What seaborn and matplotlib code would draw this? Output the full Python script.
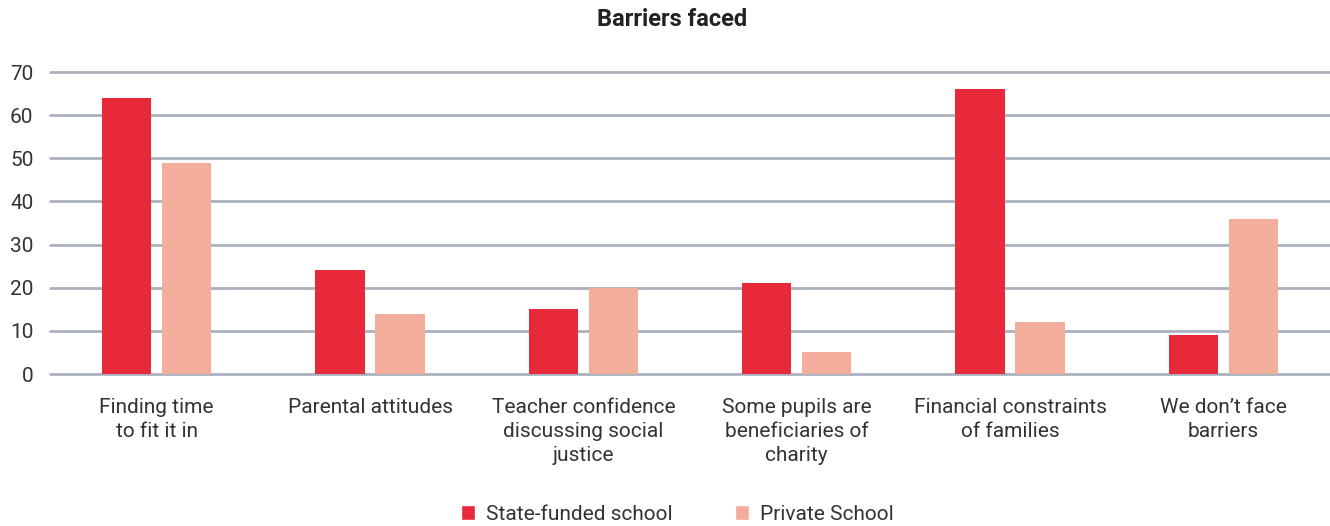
import matplotlib
matplotlib.use("Agg")
import matplotlib.pyplot as plt
import seaborn as sns
import pandas as pd
from matplotlib.patches import Patch

categories = ["Finding time\nto fit it in", "Parental attitudes",
              "Teacher confidence\ndiscussing social\njustice",
              "Some pupils are\nbeneficiaries of\ncharity",
              "Financial constraints\nof families", "We don\u2019t face\nbarriers"]
state_funded = [64, 24, 15, 21, 66, 9]
private = [49, 14, 20, 5, 12, 36]
series = ["State-funded school", "Private School"]
colors = ["#E8293A", "#F2AD9B"]
yticks = [0, 10, 20, 30, 40, 50, 60, 70]

df = pd.DataFrame({
    "cat": categories * 2,
    "val": state_funded + private,
    "series": [series[0]] * len(categories) + [series[1]] * len(categories),
})

sns.set_theme(style="white")
plt.rcParams["font.family"] = ["Roboto", "DejaVu Sans"]

fig = plt.figure(figsize=(13.3, 5.26), dpi=100)
ax = fig.add_axes([50 / 1330, (526 - 374) / 526, 1280 / 1330, 302 / 526])
sns.barplot(data=df, x="cat", y="val", hue="series", palette=colors,
            width=0.5625, gap=0.18, ax=ax, legend=False, saturation=1,
            linewidth=0, edgecolor="none")
ax.set_ylim(0, 70)
ax.set_xlim(-0.5, len(categories) - 0.5)
ax.set_yticks(yticks)
for y in yticks:
    ax.axhline(y, color="#AAB1BE", lw=2, zorder=0, clip_on=False)
for s in ax.spines.values():
    s.set_visible(False)
ax.set_xlabel("")
ax.set_ylabel("")
ax.tick_params(axis="both", length=0, labelsize=15, colors="#333333")
ax.tick_params(axis="y", pad=12)
ax.tick_params(axis="x", pad=17)
for lbl in ax.get_xticklabels():
    lbl.set_linespacing(1.33)
    lbl.set_verticalalignment("top")

fig.text(672 / 1330, 1 - 20 / 526, "Barriers faced", ha="center", va="center",
         fontsize=17, fontweight="bold", color="#222222")

handles = [Patch(facecolor=c, label=s) for c, s in zip(colors, series)]
fig.legend(handles=handles, loc="center", bbox_to_anchor=(677 / 1330, 1 - 514 / 526),
           ncol=2, frameon=False, fontsize=15, handlelength=0.7, handleheight=0.7,
           columnspacing=3.0, handletextpad=0.5, labelcolor="#333333")

fig.savefig("out.png", dpi=100)
